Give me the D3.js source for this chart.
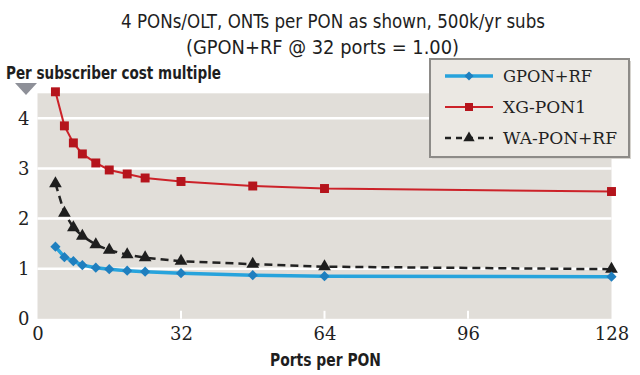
<!DOCTYPE html>
<html>
<head>
<meta charset="utf-8">
<script src="https://cdn.jsdelivr.net/npm/d3@7"></script>
<style>
  body { margin: 0; background: #fff; }
</style>
</head>
<body>
<svg id="chart"></svg>
<script>
const ports = [4, 6, 8, 10, 13, 16, 20, 24, 32, 48, 64, 128];
const gponRf = [1.44, 1.23, 1.15, 1.07, 1.02, 0.99, 0.96, 0.94, 0.91, 0.87, 0.85, 0.84];
const xgPon1 = [4.53, 3.85, 3.51, 3.29, 3.11, 2.97, 2.89, 2.81, 2.74, 2.65, 2.6, 2.54];
const waPonRf = [2.7, 2.11, 1.82, 1.65, 1.48, 1.37, 1.28, 1.22, 1.15, 1.09, 1.04, 0.99];
const xTicks = [0, 32, 64, 96, 128];
const yTicks = [0, 1, 2, 3, 4];
const seriesNames = ["GPON+RF", "XG-PON1", "WA-PON+RF"];

const W = 640, H = 375;
const plot = { left: 37.5, right: 611.5, top: 93.3, bottom: 318.8 };
const SANS = '"DejaVu Sans Condensed", "Liberation Sans", sans-serif';
const SERIF = '"DejaVu Serif", "Liberation Serif", serif';

const svg = d3.select("#chart").attr("width", W).attr("height", H);

const x = d3.scaleLinear().domain([0, 128]).range([plot.left, plot.right]);
const y = d3.scaleLinear().domain([0, 4.5]).range([plot.bottom, plot.top]);

function sansText(tx, ty, str, size, len, bold) {
  return svg.append("text")
    .attr("x", tx).attr("y", ty)
    .attr("textLength", len).attr("lengthAdjust", "spacingAndGlyphs")
    .style("font-family", SANS)
    .style("font-size", size + "px")
    .style("font-weight", bold ? "bold" : "normal")
    .attr("fill", "#1e1e1e")
    .text(str);
}

// title
sansText(121, 28, "4 PONs/OLT, ONTs per PON as shown, 500k/yr subs", 20, 424, false);
sansText(186, 54, "(GPON+RF @ 32 ports = 1.00)", 20, 273, false);

// y axis title + marker
sansText(6, 79, "Per subscriber cost multiple", 18, 215, true);
svg.append("path")
  .attr("d", "M15,83 L37,83 L26,95 Z")
  .attr("fill", "#8e9098");

// plot background
svg.append("rect")
  .attr("x", plot.left).attr("y", plot.top)
  .attr("width", plot.right - plot.left).attr("height", plot.bottom - plot.top)
  .attr("fill", "#e1ded9");

// horizontal gridlines
svg.append("g")
  .selectAll("line")
  .data(yTicks.filter((d) => d > 0))
  .join("line")
  .attr("x1", plot.left).attr("x2", plot.right)
  .attr("y1", (d) => y(d)).attr("y2", (d) => y(d))
  .attr("stroke", "#fff").attr("stroke-width", 2.5);

// small white ticks at the bottom
svg.append("g")
  .selectAll("line")
  .data([32, 64, 96])
  .join("line")
  .attr("x1", (d) => x(d)).attr("x2", (d) => x(d))
  .attr("y1", plot.bottom - 8).attr("y2", plot.bottom)
  .attr("stroke", "#fff").attr("stroke-width", 2);

// axes (labels only)
const yAxis = svg.append("g")
  .attr("transform", `translate(${plot.left - 4},0)`)
  .call(d3.axisLeft(y).tickValues(yTicks).tickFormat(d3.format("d")).tickSize(0).tickPadding(4));
yAxis.select(".domain").remove();
yAxis.selectAll("text")
  .style("font-family", SERIF)
  .style("font-size", "18px").attr("fill", "#222");

const xAxis = svg.append("g")
  .attr("transform", `translate(0,${plot.bottom})`)
  .call(d3.axisBottom(x).tickValues(xTicks).tickFormat(d3.format("d")).tickSize(0).tickPadding(8));
xAxis.select(".domain").remove();
xAxis.selectAll("text")
  .style("font-family", SERIF)
  .style("font-size", "18px").attr("fill", "#222");

sansText(270, 366, "Ports per PON", 18, 111, true);

// series
const series = [
  { name: seriesNames[0], values: gponRf, line: "#27a3dc", width: 3.5, dash: null, mark: "#1f7fbf", sym: d3.symbolSquare, size: 52, rot: 45, tl: 89 },
  { name: seriesNames[1], values: xgPon1, line: "#cc2229", width: 2, dash: null, mark: "#b5141c", sym: d3.symbolSquare, size: 80, rot: 0, tl: 83 },
  { name: seriesNames[2], values: waPonRf, line: "#222", width: 2.5, dash: "8,5", mark: "#1e1e1e", sym: d3.symbolTriangle, size: 70, rot: 0, tl: 114 }
];

const line = d3.line().x((d) => x(d[0])).y((d) => y(d[1]));

[1, 2, 0].forEach((i) => {
  const s = series[i];
  const pts = ports.map((p, j) => [p, s.values[j]]);
  svg.append("path")
    .datum(pts)
    .attr("d", line)
    .attr("fill", "none")
    .attr("stroke", s.line)
    .attr("stroke-width", s.width)
    .attr("stroke-dasharray", s.dash);
  svg.append("g")
    .selectAll("path")
    .data(pts)
    .join("path")
    .attr("d", d3.symbol().type(s.sym).size(s.size))
    .attr("transform", (d) => `translate(${x(d[0])},${y(d[1])}) rotate(${s.rot})`)
    .attr("fill", s.mark);
});

// legend
const lg = svg.append("g").attr("transform", "translate(430,59)");
lg.append("rect")
  .attr("x", 2).attr("y", 2).attr("width", 199).attr("height", 98)
  .attr("fill", "#d6d3ce");
lg.append("rect")
  .attr("width", 199).attr("height", 98)
  .attr("fill", "#ebe8e3").attr("stroke", "#8d8b88").attr("stroke-width", 2);

series.forEach((s, i) => {
  const yy = 17 + i * 31;
  lg.append("line")
    .attr("x1", 15).attr("x2", 63).attr("y1", yy).attr("y2", yy)
    .attr("stroke", s.line).attr("stroke-width", s.width)
    .attr("stroke-dasharray", s.dash ? "6,5" : null);
  lg.append("path")
    .attr("d", d3.symbol().type(s.sym).size(s.size * 0.8))
    .attr("transform", `translate(39,${yy}) rotate(${s.rot})`)
    .attr("fill", s.mark);
  lg.append("text")
    .attr("x", 73).attr("y", yy + 6)
    .attr("textLength", s.tl).attr("lengthAdjust", "spacingAndGlyphs")
    .style("font-family", SERIF)
    .style("font-size", "16px").attr("fill", "#222")
    .text(s.name);
});
</script>
</body>
</html>
